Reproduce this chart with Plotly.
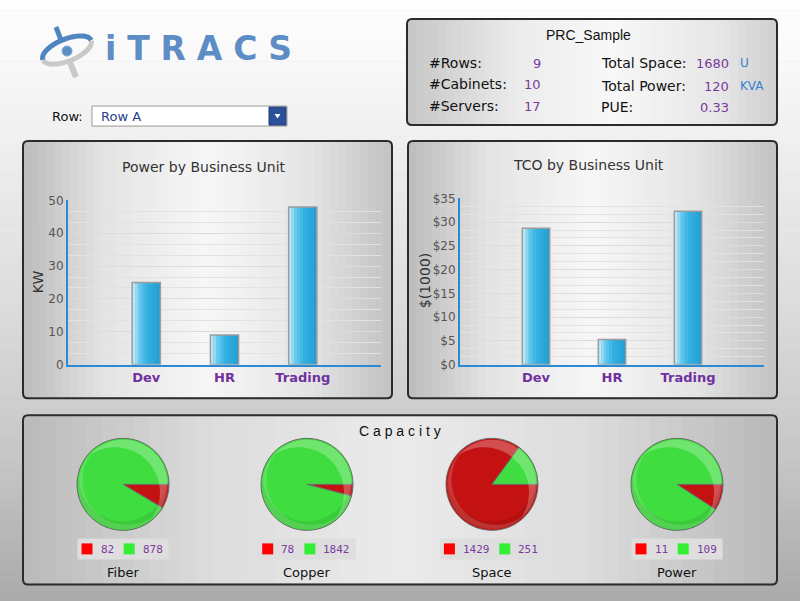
import numpy as np
import plotly.graph_objects as go

# ---------------- data ----------------
units = ["Dev", "HR", "Trading"]
power_kw = [25, 9, 48]
tco_k = [28.7, 5.3, 32.3]

cap_names = ["Fiber", "Copper", "Space", "Power"]
cap_used = [82, 78, 1429, 11]
cap_free = [878, 1842, 251, 109]

site_name = "PRC_Sample"
info_left_labels = ["#Rows:", "#Cabinets:", "#Servers:"]
info_left_values = ["9", "10", "17"]
info_right_labels = ["Total Space:", "Total Power:", "PUE:"]
info_right_values = ["1680", "120", "0.33"]
info_right_units = ["U", "KVA", ""]
row_label = "Row:"
row_selected = "Row A"

# ---------------- helpers ----------------
W, H = 800, 601
# vertical compensation for the capture pipeline (observed y_out = 0.976*y + 7)
SY, OY = 0.976, 7.0


def X(px):
    return px / W


def Y(py):
    return 1 - ((py - OY) / SY) / H


def hex2rgb(h):
    h = h.lstrip("#")
    return np.array([int(h[i:i + 2], 16) for i in (0, 2, 4)], dtype=float)


def interp_color(stops, t):
    ts = [s[0] for s in stops]
    cs = [hex2rgb(s[1]) for s in stops]
    for i in range(len(ts) - 1):
        if ts[i] <= t <= ts[i + 1]:
            f = (t - ts[i]) / (ts[i + 1] - ts[i]) if ts[i + 1] > ts[i] else 0
            c = cs[i] * (1 - f) + cs[i + 1] * f
            return "rgb(%d,%d,%d)" % tuple(np.round(c))
    c = cs[-1]
    return "rgb(%d,%d,%d)" % tuple(np.round(c))


shapes = []
annotations = []


def grad_rect(x0, y0, x1, y1, stops, n=40, horizontal=True):
    for i in range(n):
        t = (i + 0.5) / n
        col = interp_color(stops, t)
        if horizontal:
            a = x0 + (x1 - x0) * i / n
            b = x0 + (x1 - x0) * (i + 1) / n + 0.6
            shapes.append(dict(type="rect", xref="paper", yref="paper",
                               x0=X(a), x1=X(min(b, x1)), y0=Y(y1), y1=Y(y0),
                               fillcolor=col, line=dict(width=0), layer="below"))
        else:
            a = y0 + (y1 - y0) * i / n
            b = y0 + (y1 - y0) * (i + 1) / n + 0.6
            shapes.append(dict(type="rect", xref="paper", yref="paper",
                               x0=X(x0), x1=X(x1), y0=Y(min(b, y1)), y1=Y(a),
                               fillcolor=col, line=dict(width=0), layer="below"))


def round_rect_path(x0, y0, x1, y1, r):
    p = lambda x, y: "%.5f,%.5f" % (X(x), Y(y))
    return ("M " + p(x0 + r, y0) + " L " + p(x1 - r, y0) + " Q " + p(x1, y0) + " " + p(x1, y0 + r) +
            " L " + p(x1, y1 - r) + " Q " + p(x1, y1) + " " + p(x1 - r, y1) +
            " L " + p(x0 + r, y1) + " Q " + p(x0, y1) + " " + p(x0, y1 - r) +
            " L " + p(x0, y0 + r) + " Q " + p(x0, y0) + " " + p(x0 + r, y0) + " Z")


def panel(x0, y0, x1, y1, stops):
    grad_rect(x0 + 1, y0 + 1, x1 - 1, y1 - 1, stops, n=48)
    shapes.append(dict(type="path", xref="paper", yref="paper",
                       path=round_rect_path(x0, y0, x1, y1, 5),
                       line=dict(color="#2b2b2b", width=2), layer="below"))


def text(x, y, s, size=13, color="#111", family="DejaVu Sans", xanchor="center",
         yanchor="middle", weight="normal", angle=0):
    annotations.append(dict(x=X(x), y=Y(y), xref="paper", yref="paper", text=s,
                            showarrow=False, xanchor=xanchor, yanchor=yanchor,
                            textangle=angle,
                            font=dict(family=family, size=size, color=color, weight=weight)))


def pts_path(xs, ys, close=True):
    s = "M " + " L ".join("%.5f,%.5f" % (X(x), Y(y)) for x, y in zip(xs, ys))
    return s + (" Z" if close else "")


def crescent(cx, cy, r, sx, sy, r2, n=40):
    """Region inside circle (cx,cy,r) and outside circle (cx+sx,cy+sy,r2); screen px."""
    d = np.hypot(sx, sy)
    phi = np.arctan2(sy, sx)
    cb = (r * r + d * d - r2 * r2) / (2 * r * d)
    beta = np.arccos(np.clip(cb, -1, 1))
    t = np.linspace(phi + beta, phi + 2 * np.pi - beta, n)
    ox, oy = cx + r * np.cos(t), cy + r * np.sin(t)
    p1 = np.array([ox[0] - cx - sx, oy[0] - cy - sy])
    p2 = np.array([ox[-1] - cx - sx, oy[-1] - cy - sy])
    u_end = np.arctan2(p2[1], p2[0])
    u_start = np.arctan2(p1[1], p1[0])
    target = phi + np.pi
    best = None
    for k in (-2, -1, 0, 1, 2):
        ub = u_start + 2 * np.pi * k
        mid = (u_end + ub) / 2
        diff = abs(((mid - target + np.pi) % (2 * np.pi)) - np.pi)
        if abs(ub - u_end) < 2 * np.pi and (best is None or diff < best[0]):
            best = (diff, ub)
    u = np.linspace(u_end, best[1], n)
    ix, iy = cx + sx + r2 * np.cos(u), cy + sy + r2 * np.sin(u)
    return pts_path(np.concatenate([ox, ix]), np.concatenate([oy, iy]))


# ---------------- page background ----------------
grad_rect(0, 0, W, H + 10, [(0, "#ffffff"), (0.22, "#f0f0f0"), (0.5, "#dcdcdc"),
                            (0.75, "#c6c6c6"), (1, "#a8a8a8")], n=60, horizontal=False)

# ---------------- panels ----------------
chart_stops = [(0, "#bcbcbc"), (0.22, "#e4e4e4"), (0.5, "#f7f7f7"), (0.78, "#e4e4e4"), (1, "#c2c2c2")]
panel(407, 19, 777, 125, [(0, "#c6c6c6"), (0.3, "#ececec"), (0.55, "#f8f8f8"), (0.85, "#e6e6e6"), (1, "#cfcfcf")])
panel(23, 141, 392, 398, chart_stops)
panel(408, 141, 777, 398, chart_stops)
panel(23, 415, 777, 584, [(0, "#bababa"), (0.25, "#dcdcdc"), (0.5, "#ebebeb"), (0.75, "#dcdcdc"), (1, "#b8b8b8")])

# ---------------- logo ----------------
cx, cy, a, b, th = 67, 50, 26, 11, np.deg2rad(-22)


def ell(t):
    x = a * np.cos(t)
    y = b * np.sin(t)
    return cx + x * np.cos(th) - y * np.sin(th), cy + x * np.sin(th) + y * np.cos(th)


def polyline(ts):
    xs, ys = ell(ts)
    return pts_path(xs, ys, close=False)


shapes.append(dict(type="path", xref="paper", yref="paper",
                   path=polyline(np.linspace(0.05, np.pi - 0.05, 30)),
                   line=dict(color="#c9c9c9", width=5), layer="below"))
shapes.append(dict(type="line", xref="paper", yref="paper", x0=X(70), y0=Y(62), x1=X(76), y1=Y(77),
                   line=dict(color="#c9c9c9", width=6), layer="below"))
shapes.append(dict(type="path", xref="paper", yref="paper",
                   path=polyline(np.linspace(np.pi, 2 * np.pi, 30)),
                   line=dict(color="#4f86c0", width=5), layer="below"))
shapes.append(dict(type="line", xref="paper", yref="paper", x0=X(56), y0=Y(27), x1=X(61), y1=Y(40),
                   line=dict(color="#4f86c0", width=5), layer="below"))
shapes.append(dict(type="circle", xref="paper", yref="paper", x0=X(62), x1=X(72), y0=Y(56), y1=Y(46),
                   fillcolor="#5b8fc6", line=dict(color="#7aa6d6", width=1), layer="below"))
text(198, 48, "i\u2004T\u2004R\u2004A\u2004C\u2004S", size=33, color="#5d8dc4", weight="bold")

# ---------------- row selector ----------------
text(67, 116, row_label, size=13, color="#111")
shapes.append(dict(type="rect", xref="paper", yref="paper", x0=X(92), x1=X(287), y0=Y(126), y1=Y(106),
                   fillcolor="#ffffff", line=dict(color="#9a9a9a", width=1), layer="below"))
shapes.append(dict(type="rect", xref="paper", yref="paper", x0=X(269), x1=X(286), y0=Y(125), y1=Y(107),
                   fillcolor="#2c5199", line=dict(color="#1f3c78", width=1), layer="below"))
shapes.append(dict(type="path", xref="paper", yref="paper",
                   path="M %.5f,%.5f L %.5f,%.5f L %.5f,%.5f Z" % (X(274.5), Y(114), X(280.5), Y(114), X(277.5), Y(118.5)),
                   fillcolor="#ffffff", line=dict(width=0), layer="below"))
text(99, 116, row_selected, size=13, color="#2b3e8c", xanchor="left")

# ---------------- info panel ----------------
text(588, 35, site_name, size=14, color="#111", family="Liberation Sans")
rows_y = [63, 84, 106]
for lab, val, yy in zip(info_left_labels, info_left_values, rows_y):
    text(427, yy, lab, size=14, color="#111", xanchor="left")
    text(543, yy, val, size=13, color="#7b3aa0", xanchor="right")
rows_y2 = [63, 86, 107]
for lab, val, un, yy in zip(info_right_labels, info_right_values, info_right_units, rows_y2):
    text(599, yy, lab, size=14, color="#111", xanchor="left")
    text(731, yy, val, size=13, color="#7b3aa0", xanchor="right")
    if un:
        text(738, yy, un, size=12, color="#3a80cc", xanchor="left")

# ---------------- bar charts ----------------
fig = go.Figure()

bw = 0.36
nstripe = 10
bar_stops = [(0, "#cdeffb"), (0.25, "#6ccaee"), (0.5, "#36b3e3"), (1, "#219dd3")]


def add_bars(vals, xa, ya, name):
    fig.add_trace(go.Bar(x=units, y=vals, xaxis=xa, yaxis=ya, width=[bw] * 3, offset=-bw / 2,
                         marker=dict(color="#2aa9dc", line=dict(width=0)), name=name,
                         hovertemplate="%{x}: %{y}<extra></extra>", showlegend=False))
    for i in range(nstripe):
        t = (i + 0.5) / nstripe
        fig.add_trace(go.Bar(x=units, y=vals, xaxis=xa, yaxis=ya, width=[bw / nstripe + 0.004] * 3,
                             offset=-bw / 2 + i * bw / nstripe,
                             marker=dict(color=interp_color(bar_stops, t), line=dict(width=0)),
                             hoverinfo="skip", showlegend=False))
    fig.add_trace(go.Bar(x=units, y=vals, xaxis=xa, yaxis=ya, width=[bw] * 3, offset=-bw / 2,
                         marker=dict(color="rgba(0,0,0,0)", line=dict(color="#9c9c9c", width=1.5)),
                         hoverinfo="skip", showlegend=False))


add_bars(power_kw, "x", "y", "Power")
add_bars(tco_k, "x2", "y2", "TCO")

axis_line = "#2a8ad2"
xcommon = dict(range=[-1, 3], showgrid=False, showline=True, linecolor=axis_line, linewidth=2,
               ticks="", zeroline=False, fixedrange=True,
               tickfont=dict(family="DejaVu Sans", size=13, color="#7030a0", weight="bold"))
ycommon = dict(showgrid=True, gridcolor="#dcdcdc", gridwidth=1, showline=True, linecolor=axis_line,
               linewidth=2, ticks="", zeroline=False, fixedrange=True,
               tickfont=dict(family="DejaVu Sans", size=12, color="#555555"))

layout_axes = dict(
    xaxis=dict(domain=[X(68), X(381)], anchor="y", **xcommon),
    yaxis=dict(domain=[Y(364.3), Y(200.3)], anchor="x", range=[0, 50], dtick=10,
               minor=dict(dtick=10 / 3, showgrid=True, gridcolor="#e2e2e2"), **ycommon),
    xaxis2=dict(domain=[X(460), X(764)], anchor="y2", **xcommon),
    yaxis2=dict(domain=[Y(364.3), Y(198.3)], anchor="x2", range=[0, 35], dtick=5, tickprefix="$",
                minor=dict(dtick=5 / 3, showgrid=True, gridcolor="#e2e2e2"), **ycommon),
)

text(204, 167, "Power by Business Unit", size=14, color="#333")
text(588, 165, "TCO by Business Unit", size=14, color="#333")
text(38, 282, "KW", size=14, color="#333", angle=-90)
text(425, 281, "$(1000)", size=14, color="#333", angle=-90)

# ---------------- capacity pies ----------------
text(400, 431, "C a p a c i t y", size=14, color="#111", family="Liberation Sans")
pie_cx = [123, 307, 492, 677]
pie_cy, pie_r = 484, 46
red, green = "#c41212", "#3fdd3f"
char_w = 6.6
for name, u, f, pcx in zip(cap_names, cap_used, cap_free, pie_cx):
    fig.add_trace(go.Pie(values=[u, f], labels=["Used", "Free"], sort=False, direction="clockwise",
                         rotation=90, textinfo="none", showlegend=False, name=name,
                         marker=dict(colors=[red, green], line=dict(color="#6a6a6a", width=1)),
                         domain=dict(x=[X(pcx - pie_r), X(pcx + pie_r)],
                                     y=[Y(pie_cy + pie_r), Y(pie_cy - pie_r)])))
    # glossy highlights
    shapes.append(dict(type="path", xref="paper", yref="paper",
                       path=crescent(pcx, pie_cy, pie_r - 1.5, -8, 8, pie_r - 1),
                       fillcolor="rgba(255,255,255,0.26)", line=dict(width=0), layer="above"))
    shapes.append(dict(type="path", xref="paper", yref="paper",
                       path=crescent(pcx, pie_cy, pie_r - 1.5, 4, -4, pie_r - 1.5),
                       fillcolor="rgba(255,255,255,0.16)", line=dict(width=0), layer="above"))
    shapes.append(dict(type="path", xref="paper", yref="paper",
                       path=crescent(pcx, pie_cy, pie_r - 1.5, 0, -7, pie_r - 2),
                       fillcolor="rgba(0,0,0,0.08)", line=dict(width=0), layer="above"))
    # legend box
    s1, s2 = str(u), str(f)
    w1, w2 = len(s1) * char_w, len(s2) * char_w
    bwid = 58 + w1 + w2
    bx0 = pcx - bwid / 2
    shapes.append(dict(type="rect", xref="paper", yref="paper", x0=X(bx0), x1=X(bx0 + bwid),
                       y0=Y(559), y1=Y(538), fillcolor="#dedede", line=dict(width=0), layer="below"))
    rx = bx0 + 4
    shapes.append(dict(type="rect", xref="paper", yref="paper", x0=X(rx), x1=X(rx + 11),
                       y0=Y(554), y1=Y(543), fillcolor="#ff0000", line=dict(width=0), layer="below"))
    text(rx + 17, 549, s1, size=11, color="#7b3aa0", family="DejaVu Sans Mono", xanchor="left")
    gx = rx + 17 + w1 + 12
    shapes.append(dict(type="rect", xref="paper", yref="paper", x0=X(gx), x1=X(gx + 11),
                       y0=Y(554), y1=Y(543), fillcolor="#33ee33", line=dict(width=0), layer="below"))
    text(gx + 17, 549, s2, size=11, color="#7b3aa0", family="DejaVu Sans Mono", xanchor="left")
    text(pcx, 572, name, size=13, color="#111")

fig.update_layout(
    width=W, height=H, margin=dict(l=0, r=0, t=0, b=0),
    paper_bgcolor="#a8a8a8", plot_bgcolor="rgba(0,0,0,0)",
    barmode="overlay", showlegend=False,
    shapes=shapes, annotations=annotations,
    font=dict(family="DejaVu Sans"),
    **layout_axes,
)

post = (
    "var de=document.documentElement;de.style.margin='0';de.style.padding='0';de.style.overflow='hidden';"
    "de.style.backgroundColor='#a8a8a8';"
    "de.style.backgroundImage='linear-gradient(to bottom,#b4b4b4 0px,#b4b4b4 3px,#ffffff 3px,#ffffff 100%)';"
    "de.style.backgroundSize='100% 10px';de.style.backgroundRepeat='no-repeat';"
    "var bd=document.body;bd.style.margin='0';bd.style.padding='0';bd.style.overflow='hidden';"
    "bd.style.background='transparent';"
    "bd.style.width='800px';bd.style.height='601px';"
    "var g=document.getElementById('{plot_id}');g.style.position='absolute';g.style.left='0px';g.style.top='0px';"
)

fig.write_html("out.html", config={"displayModeBar": False, "responsive": False}, post_script=post)
